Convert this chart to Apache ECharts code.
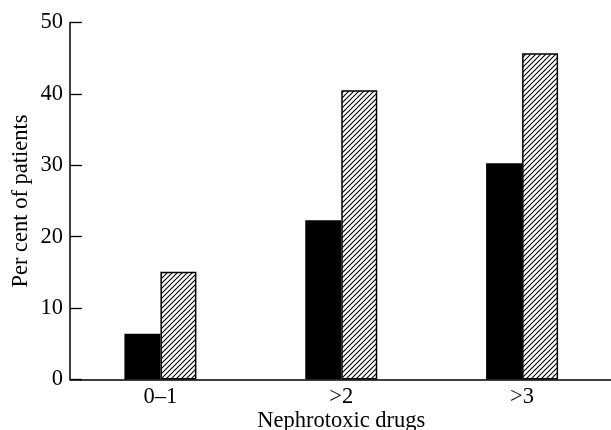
<!DOCTYPE html>
<html>
<head>
<meta charset="utf-8">
<script src="https://cdn.jsdelivr.net/npm/echarts@6/dist/echarts.min.js"></script>
<style>html,body{margin:0;padding:0;background:#fff;}#c{width:611px;height:430px;}</style>
</head>
<body>
<div id="c"></div>
<script>
const categories = ["0\u20131", ">2", ">3"];
const solidValues = [6.4, 22.3, 30.3];
const hatchedValues = [15.1, 40.5, 45.7];
const yTicks = [0, 10, 20, 30, 40, 50];

function hatch() {
  const s = 5;
  const c = document.createElement('canvas');
  c.width = s; c.height = s;
  const g = c.getContext('2d');
  g.fillStyle = '#fff'; g.fillRect(0, 0, s, s);
  g.strokeStyle = '#000'; g.lineWidth = 1.1;
  g.beginPath();
  g.moveTo(-1, s + 1); g.lineTo(s + 1, -1);
  g.moveTo(-1, 1); g.lineTo(1, -1);
  g.moveTo(s - 1, s + 1); g.lineTo(s + 1, s - 1);
  g.stroke();
  return c;
}

const font = 'Liberation Serif';
const chart = echarts.init(document.getElementById('c'));
chart.setOption({
  animation: false,
  grid: { left: 70, top: 22.5, width: 542.5, bottom: 50.5, containLabel: false, outerBoundsMode: 'none' },
  xAxis: {
    type: 'category',
    data: categories,
    name: 'Nephrotoxic drugs',
    nameLocation: 'middle',
    nameGap: 30,
    nameMoveOverlap: false,
    nameTextStyle: { fontFamily: font, fontSize: 22.5, color: '#000' },
    axisLine: { lineStyle: { color: '#000', width: 1.5 } },
    axisTick: { inside: true, length: 12, lineStyle: { color: '#000', width: 1.3 } },
    axisLabel: { fontFamily: font, fontSize: 22.5, color: '#000', margin: 6 }
  },
  yAxis: {
    type: 'value',
    min: yTicks[0], max: yTicks[yTicks.length - 1], interval: 10,
    name: 'Per cent of patients',
    nameLocation: 'middle',
    nameGap: 37,
    nameMoveOverlap: false,
    nameTextStyle: { fontFamily: font, fontSize: 22.5, color: '#000' },
    axisLine: { show: true, lineStyle: { color: '#000', width: 1.5 } },
    axisTick: { show: true, inside: true, length: 12, lineStyle: { color: '#000', width: 1.3 } },
    axisLabel: { fontFamily: font, fontSize: 22.5, color: '#000', margin: 7 },
    splitLine: { show: false }
  },
  series: [
    { type: 'bar', data: solidValues, barWidth: 36, barGap: '0%',
      itemStyle: { color: '#000' } },
    { type: 'bar', data: hatchedValues, barWidth: 36, barGap: '0%',
      itemStyle: { color: { image: hatch(), repeat: 'repeat' }, borderColor: '#000', borderWidth: 1.5 } }
  ]
});
</script>
</body>
</html>
